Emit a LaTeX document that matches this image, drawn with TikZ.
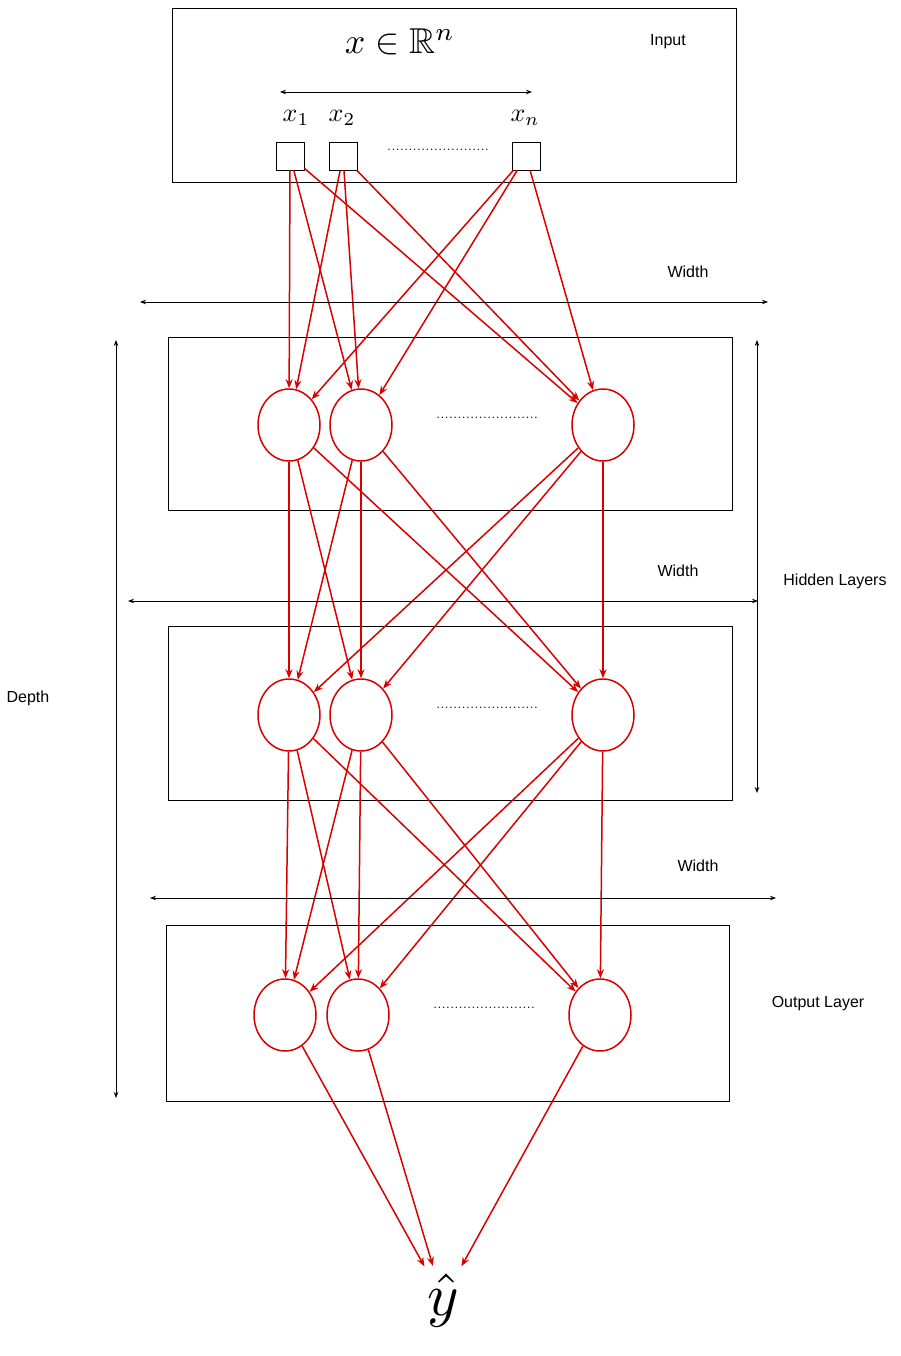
\documentclass[tikz,border=0pt]{standalone}
\usepackage{graphicx}
\usepackage{amssymb}
\usepackage{fontspec}
\newfontfamily\lab{Liberation Sans}
\usetikzlibrary{shapes.geometric,arrows.meta}
\begin{document}
\begin{tikzpicture}[x=1pt,y=-1pt,
  box/.style={draw,line width=0.9pt},
  sq/.style={draw,line width=0.9pt,minimum size=28pt,inner sep=0pt},
  neuron/.style={draw=red!85!black,line width=1.5pt,ellipse,minimum width=62pt,minimum height=72pt,inner sep=0pt},
  edge/.style={red!85!black,line width=1.5pt,-{Stealth[length=9pt,width=7pt]}},
  dim/.style={line width=0.8pt,{Stealth[length=6pt]}-{Stealth[length=6pt]}},
  lbl/.style={font=\lab\fontsize{16}{18}\selectfont},
  dotsn/.style={font=\fontsize{17}{17}\selectfont,inner sep=0pt}]
\useasboundingbox (0,0) rectangle (900,1356);
% input
\draw[box] (172,8) rectangle (736,182);
\node (title) at (400,42) {\scalebox{3.6}{$x\in\mathbb{R}^n$}};
\node[lbl] (inlab) at (668,42) {Input};
\coordinate (wl) at (280,92); \coordinate (wr) at (532,92);
\draw[dim] (wl) -- (wr);
\node (l1) at (296,118) {\scalebox{2.6}{$x_1$}};
\node (l2) at (342,118) {\scalebox{2.6}{$x_2$}};
\node (ln) at (525,118) {\scalebox{2.6}{$x_n$}};
\node[sq] (i1) at (290,156) {};
\node[sq] (i2) at (343,156) {};
\node[sq] (i3) at (526,156) {};
\node[dotsn] (idots) at (438,150) {........................};
% boxes
\draw[box] (168,337) rectangle (732,510);
\draw[box] (168,626) rectangle (732,800);
\draw[box] (166,925) rectangle (729,1101);
% neurons
\foreach \n/\x/\y in {a1/289/425,a2/361/425,a3/603/425,b1/289/715,b2/361/715,b3/603/715,c1/285/1015,c2/358/1015,c3/600/1015}
  \node[neuron] (\n) at (\x,\y) {};
\node[dotsn] (d1) at (487,418) {........................};
\node[dotsn] (d2) at (487,708) {........................};
\node[dotsn] (d3) at (484,1008) {........................};
% edges
\foreach \s in {i1,i2,i3} \foreach \t in {a1,a2,a3} \draw[edge] (\s) -- (\t);
\foreach \s in {a1,a2,a3} \foreach \t in {b1,b2,b3} \draw[edge] (\s) -- (\t);
\foreach \s in {b1,b2,b3} \foreach \t in {c1,c2,c3} \draw[edge] (\s) -- (\t);
\node (y) at (443,1300) {\scalebox{6}{$\hat{y}$}};
\foreach \s in {c1,c2,c3} \draw[edge,shorten >=4pt] (\s) -- (y);
% width arrows
\coordinate (w1a) at (140,302); \coordinate (w1b) at (768,302);
\draw[dim] (w1a) -- (w1b);
\node[lbl] (w1) at (688,272) {Width};
\coordinate (w2a) at (128,601); \coordinate (w2b) at (758,601);
\draw[dim] (w2a) -- (w2b);
\node[lbl] (w2) at (678,571) {Width};
\coordinate (w3a) at (150,898); \coordinate (w3b) at (776,898);
\draw[dim] (w3a) -- (w3b);
\node[lbl] (w3) at (698,866) {Width};
% depth / hidden
\coordinate (da) at (116,340); \coordinate (db) at (116,1098);
\draw[dim] (da) -- (db);
\node[lbl] (depth) at (28,698) {Depth};
\coordinate (ha) at (757,340); \coordinate (hb) at (757,793);
\draw[dim] (ha) -- (hb);
\node[lbl] (hid) at (835,581) {Hidden Layers};
\node[lbl] (out) at (818,1004) {Output Layer};
\end{tikzpicture}
\end{document}
